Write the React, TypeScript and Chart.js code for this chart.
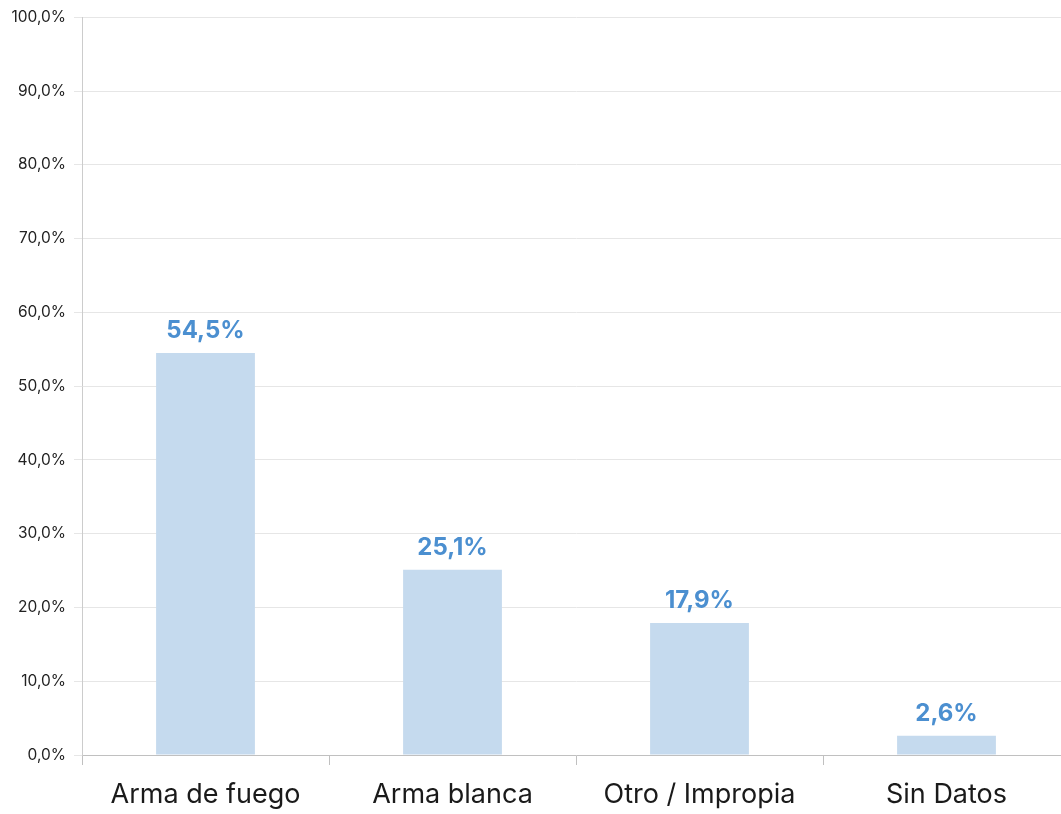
import React, { useEffect, useRef } from "react";
import { Chart, registerables } from "chart.js";

Chart.register(...registerables);

const categories = ["Arma de fuego", "Arma blanca", "Otro / Impropia", "Sin Datos"];
const values = [54.5, 25.1, 17.9, 2.6];

const fmt = (v: number) => v.toFixed(1).replace(".", ",") + "%";

const valueLabels = {
  id: "valueLabels",
  afterDatasetsDraw(chart: any) {
    const ctx = chart.ctx;
    const meta = chart.getDatasetMeta(0);
    ctx.save();
    ctx.fillStyle = "#4b8fd0";
    ctx.font = "bold 24px Inter";
    ctx.textAlign = "center";
    ctx.textBaseline = "bottom";
    meta.data.forEach((el: any, i: number) => {
      ctx.fillText(fmt(values[i]), el.x, el.y - 10);
    });
    ctx.restore();
  },
};

export default function App() {
  const ref = useRef<HTMLCanvasElement>(null);
  useEffect(() => {
    document.body.style.margin = "0";
    const chart = new Chart(ref.current!, {
      type: "bar",
      data: {
        labels: categories,
        datasets: [
          {
            data: values,
            backgroundColor: "#c5daee",
            barPercentage: 0.4,
            categoryPercentage: 1,
          },
        ],
      },
      options: {
        animation: false,
        responsive: false,
        layout: { padding: { top: 17, right: 0, left: 0, bottom: 0 } },
        plugins: { legend: { display: false }, tooltip: { enabled: false } },
        scales: {
          x: {
            grid: { offset: true, drawOnChartArea: false, tickLength: 10, color: "#c0c0c0" },
            border: { color: "#c0c0c0" },
            ticks: { font: { family: "Inter", size: 27 }, color: "#1a1a1a", padding: 14 },
            afterFit: (s: any) => { s.height = 59; },
          },
          y: {
            min: 0,
            max: 100,
            ticks: {
              stepSize: 10,
              font: { family: "Inter", size: 15.5 },
              color: "#222",
              padding: 8,
              callback: (v: any) => fmt(Number(v)),
            },
            grid: { color: "#e6e6e6", tickLength: 8 },
            border: { color: "#cccccc" },
            afterFit: (s: any) => { s.width = 82; },
          },
        },
      },
      plugins: [valueLabels],
    });
    return () => chart.destroy();
  }, []);
  return (
    <div style={{ width: 1061, height: 814, overflow: "hidden" }}>
      <canvas ref={ref} width={1070} height={814} style={{ display: "block" }} />
    </div>
  );
}
